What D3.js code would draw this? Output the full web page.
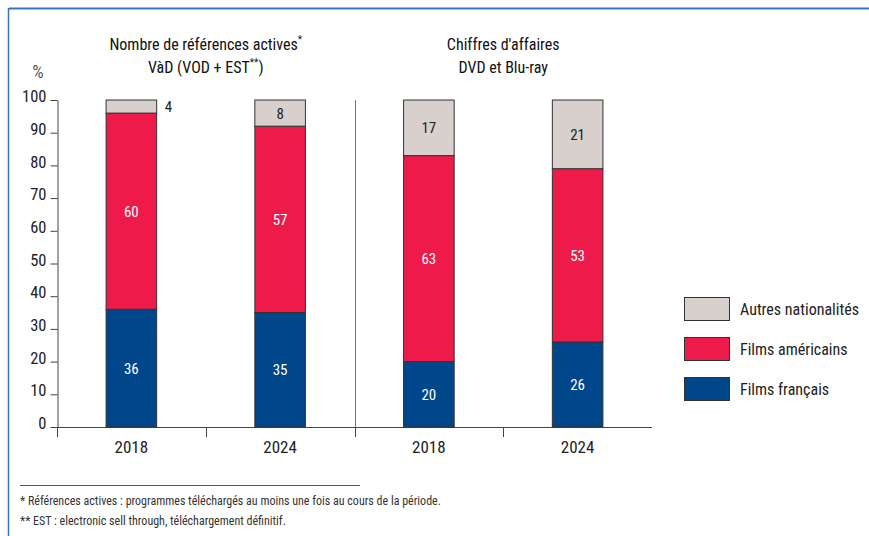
<!DOCTYPE html>
<html><head><meta charset="utf-8">
<script src="https://cdn.jsdelivr.net/npm/d3@7"></script>
<style>
body{margin:0;background:#fff;}
text{font-family:"Liberation Sans Narrow","Roboto Condensed","DejaVu Sans Condensed",sans-serif;}
</style></head>
<body>
<svg id="chart" width="869" height="536"></svg>
<script>
const categories = ["VàD 2018","VàD 2024","DVD 2018","DVD 2024"];
const tickLabels = ["2018","2024","2018","2024"];
const filmsFrancais = [36,35,20,26];
const filmsAmericains = [60,57,63,53];
const autres = [4,8,17,21];
const yTicks = [0,10,20,30,40,50,60,70,80,90,100];
const seriesNames = ["Films français","Films américains","Autres nationalités"];
const seriesColors = ["#00468b","#ee1a4a","#d8d0cc"];
const labelColors = ["#ffffff","#ffffff","#222222"];
const groupTitles = [["Nombre de références actives","VàD (VOD + EST**)"],["Chiffres d'affaires","DVD et Blu-ray"]];
const footnotes = ["* Références actives : programmes téléchargés au moins une fois au cours de la période.","** EST : electronic sell through, téléchargement définitif."];

const svg = d3.select("#chart");
// frame
svg.append("line").attr("x1",9).attr("x2",869).attr("y1",8.5).attr("y2",8.5).attr("stroke","#3a74b9").attr("stroke-width",2);
svg.append("line").attr("x1",8.5).attr("x2",8.5).attr("y1",8).attr("y2",536).attr("stroke","#3a74b9").attr("stroke-width",1.5);

const x = d3.scaleBand().domain(categories).range([57,652]).paddingInner(0.66).paddingOuter(0.33);
const y = d3.scaleLinear().domain([0,100]).range([427,100]);

const data = categories.map((c,i)=>({cat:c, vals:[filmsFrancais[i],filmsAmericains[i],autres[i]]}));
const stack = d3.stack().keys([0,1,2]).value((d,k)=>d.vals[k]);
const stacked = stack(data);

// y axis
const yAxis = d3.axisLeft(y).tickValues(yTicks).tickSize(7).tickSizeOuter(0);
const gy = svg.append("g").attr("transform","translate(57.5,0)").call(yAxis);
gy.select(".domain").attr("stroke","#444");
gy.selectAll(".tick line").attr("stroke","#444");
gy.selectAll(".tick text").attr("font-size",16.5).attr("fill","#222").attr("x",-11).attr("dy","0.1em");

// x axis
const step = x.step();
const x0 = x.range()[0];
svg.append("line").attr("x1",51).attr("x2",652).attr("y1",427.5).attr("y2",427.5).attr("stroke","#444");
d3.range(categories.length).forEach(i=>{
  const xx = Math.round(x0 + i*step)+0.5;
  svg.append("line").attr("x1",xx).attr("x2",xx).attr("y1",427).attr("y2",437).attr("stroke","#444");
});
svg.selectAll(".xl").data(categories).enter().append("text")
  .attr("x",d=>x(d)+x.bandwidth()/2).attr("y",453).attr("text-anchor","middle")
  .attr("font-size",17).attr("fill","#222").text((d,i)=>tickLabels[i]);

// divider
const divX = Math.round(x0 + 2*step)+0.5;
svg.append("line").attr("x1",divX).attr("x2",divX).attr("y1",100).attr("y2",427).attr("stroke","#777");

// bars
stacked.forEach((s,si)=>{
  svg.append("g").selectAll("rect").data(s).enter().append("rect")
    .attr("x",d=>x(d.data.cat)).attr("width",x.bandwidth())
    .attr("y",d=>y(d[1])).attr("height",d=>y(d[0])-y(d[1]))
    .attr("fill",seriesColors[si]).attr("stroke","#333").attr("stroke-width",1);
});
// value labels
stacked.forEach((s,si)=>{
  s.forEach((d,i)=>{
    const v = d[1]-d[0];
    const outside = (y(d[0])-y(d[1]))<18;
    svg.append("text")
      .attr("x", outside ? x(d.data.cat)+x.bandwidth()+8 : x(d.data.cat)+x.bandwidth()/2)
      .attr("y", y((d[0]+d[1])/2)+5.5)
      .attr("text-anchor", outside?"start":"middle")
      .attr("font-size",15).attr("fill", outside?"#222":labelColors[si]).text(v);
  });
});

// titles
groupTitles.forEach((t,gi)=>{
  const cx = x0 + (2*gi+1)*step;
  const t1 = svg.append("text").attr("x",cx).attr("y",50).attr("text-anchor","middle").attr("font-size",16).attr("fill","#111").text(t[0]);
  if(gi===0) t1.append("tspan").attr("font-size",10).attr("dy",-7).text("*");
  const parts = t[1].split("**");
  const t2 = svg.append("text").attr("x",cx).attr("y",73).attr("text-anchor","middle").attr("font-size",16).attr("fill","#111");
  t2.append("tspan").text(parts[0]);
  if(parts.length>1){
    t2.append("tspan").attr("font-size",10).attr("dy",-7).text("**");
    t2.append("tspan").attr("dy",7).text(parts[1]);
  }
});
svg.append("text").attr("x",38).attr("y",78).attr("text-anchor","middle").attr("font-size",18).attr("fill","#555").text("%");

// legend
const legendOrder = [2,1,0];
legendOrder.forEach((si,i)=>{
  const ly = 297 + i*40;
  svg.append("rect").attr("x",684.5).attr("y",ly+0.5).attr("width",45).attr("height",23).attr("fill",seriesColors[si]).attr("stroke","#333");
  svg.append("text").attr("x",740).attr("y",ly+18).attr("font-size",16).attr("fill","#222").text(seriesNames[si]);
});

// footnotes
svg.append("line").attr("x1",20).attr("x2",360).attr("y1",485.5).attr("y2",485.5).attr("stroke","#555");
footnotes.forEach((f,i)=>{
  svg.append("text").attr("x",20).attr("y",505+i*20).attr("font-size",12).attr("fill","#333").text(f);
});
</script>
</body></html>
